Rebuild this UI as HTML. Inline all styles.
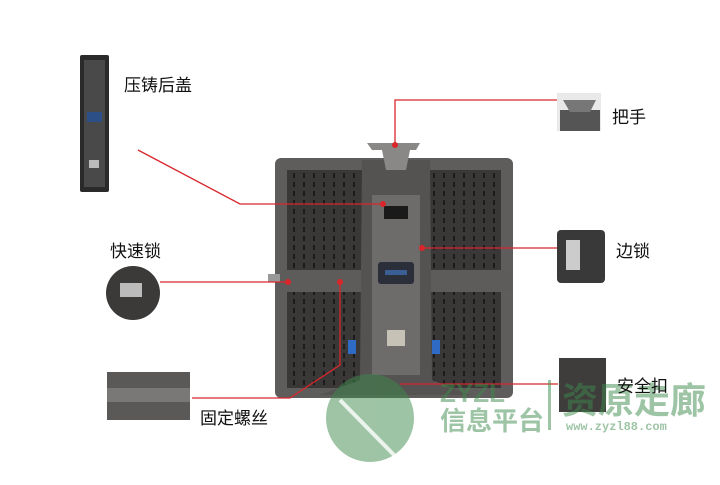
<!DOCTYPE html>
<html><head><meta charset="utf-8"><style>
body{margin:0;background:#fff;width:720px;height:480px;overflow:hidden;font-family:"Liberation Sans","Noto Sans CJK SC",sans-serif}
</style></head><body>
<svg width="720" height="480" viewBox="0 0 720 480" xmlns="http://www.w3.org/2000/svg">
<defs>
<pattern id="holes" width="10" height="9" patternUnits="userSpaceOnUse">
<rect width="10" height="9" fill="#3a3837"/>
<rect x="3" y="2" width="2" height="5" fill="#1d1c1c"/>
</pattern>
</defs>
<rect x="80" y="55" width="29" height="137" rx="2" fill="#2b2a2a"/>
<rect x="84" y="60" width="21" height="127" fill="#4a4949"/>
<rect x="87" y="112" width="15" height="10" fill="#2c4f87"/>
<rect x="89" y="160" width="10" height="8" fill="#bbb"/>
<rect x="275" y="158" width="238" height="240" rx="6" fill="#5f5d5c"/>
<rect x="287" y="170" width="214" height="218" fill="url(#holes)"/>
<rect x="277" y="270" width="234" height="22" fill="#5e5c5b"/>
<path d="M362 160 L430 160 L432 380 L470 395 L320 395 L360 380 Z" fill="#555352"/>
<rect x="372" y="195" width="48" height="180" fill="#6e6c6b"/>
<rect x="378" y="262" width="36" height="22" rx="3" fill="#2b2f3a"/>
<rect x="385" y="270" width="22" height="5" fill="#3a5f95"/>
<rect x="384" y="206" width="24" height="13" fill="#1a1a1a"/>
<rect x="387" y="330" width="18" height="16" fill="#c7c2b6"/>
<path d="M367 143 L420 143 L416 150 L410 150 L406 170 L386 170 L382 150 L372 150 Z" fill="#8a8887"/>
<rect x="348" y="340" width="8" height="14" fill="#2f6ac4"/>
<rect x="432" y="340" width="8" height="14" fill="#2f6ac4"/>
<rect x="268" y="274" width="12" height="8" fill="#999"/>
<g stroke="#d8262b" stroke-width="1.3" fill="none">
<polyline points="138,150 240,204 383,204"/>
<polyline points="395,145 395,100 560,100"/>
<polyline points="420,248 560,248"/>
<polyline points="160,282 290,282"/>
<polyline points="340,282 340,365 290,398 192,398"/>
<polyline points="400,384 558,384"/>
</g>
<g fill="#d8262b"><circle cx="383" cy="204" r="3"/><circle cx="395" cy="145" r="3"/><circle cx="422" cy="248" r="3"/><circle cx="288" cy="282" r="3"/><circle cx="340" cy="282" r="3"/></g>
<rect x="557" y="93" width="44" height="38" fill="#e9e9e9"/>
<rect x="560" y="110" width="40" height="21" fill="#555"/>
<path d="M563 100 L596 100 L590 112 L570 112 Z" fill="#777"/>
<rect x="557" y="230" width="48" height="53" rx="4" fill="#3a3939"/>
<rect x="566" y="240" width="14" height="30" fill="#ccc"/>
<circle cx="133" cy="293" r="27" fill="#3b3a39"/>
<rect x="120" y="283" width="22" height="14" fill="#bbb"/>
<rect x="107" y="372" width="83" height="48" fill="#5b5958"/>
<rect x="107" y="388" width="83" height="14" fill="#7a7877"/>
<rect x="559" y="358" width="47" height="54" fill="#3f3d3c"/>
<g opacity="0.5" fill="#3e8a4c">
<circle cx="370" cy="418" r="44"/>
<text x="440" y="430" font-size="26" font-weight="bold" font-family="Liberation Sans,Noto Sans CJK SC,sans-serif">信息平台</text>
<text x="440" y="402" font-size="26" font-weight="bold" font-family="Liberation Sans,sans-serif">ZYZL</text>
<text x="562" y="413" font-size="36" font-weight="bold" font-family="Liberation Sans,Noto Sans CJK SC,sans-serif">资原走廊</text>
<text x="566" y="430" font-size="12" font-weight="bold" font-family="Liberation Mono,monospace">www.zyzl88.com</text>
<rect x="548" y="380" width="3" height="50"/>
</g>
<g stroke="#fff" stroke-width="4" opacity="0.8"><line x1="340" y1="400" x2="395" y2="456"/></g>
<g font-size="17" fill="#111" font-family="Liberation Sans,Noto Sans CJK SC,sans-serif">
<text x="124" y="91">压铸后盖</text>
<text x="612" y="123">把手</text>
<text x="616" y="257">边锁</text>
<text x="110" y="257">快速锁</text>
<text x="200" y="424">固定螺丝</text>
<text x="617" y="392">安全扣</text>
</g>
</svg>
</body></html>
